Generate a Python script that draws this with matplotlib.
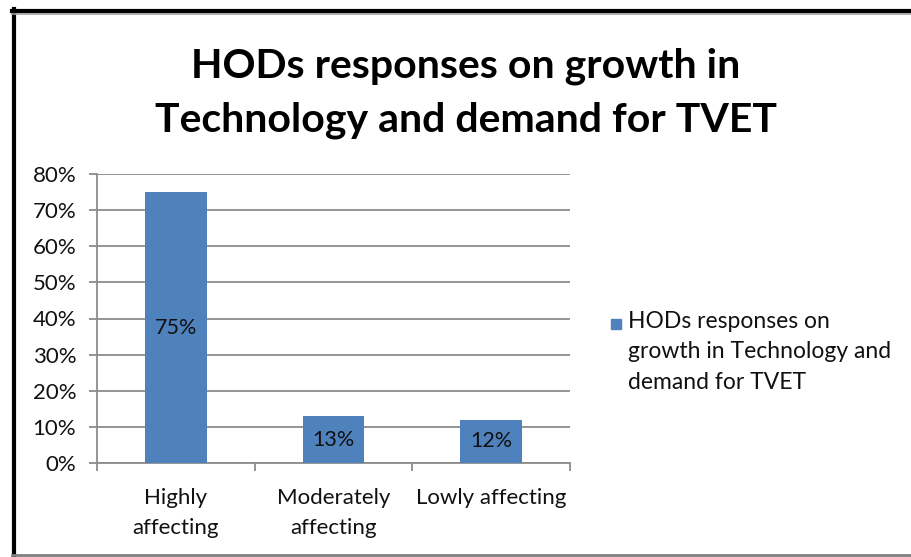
import matplotlib.pyplot as plt
from matplotlib.patches import Rectangle
from matplotlib.lines import Line2D

# response categories and share of HODs per category
categories = ['Highly\naffecting', 'Moderately\naffecting', 'Lowly affecting']
shares = [75, 13, 12]
yticks = [0, 10, 20, 30, 40, 50, 60, 70, 80]
series_name = 'HODs responses on\ngrowth in Technology and\ndemand for TVET'
title = 'HODs responses on growth in\nTechnology and demand for TVET'

bar_color = '#4F81BD'
grid_color = '#8C8C8C'

plt.rcParams['font.family'] = ['Lato', 'DejaVu Sans']

W, H = 912, 557
fig = plt.figure(figsize=(W / 100, H / 100), dpi=100)
fig.patch.set_facecolor('white')

# frame around the chart
fig.add_artist(Line2D([14 / W, 14 / W], [0, 1 - 9 / H], color='black', lw=3.0))
fig.add_artist(Line2D([12 / W, 1], [1 - 11 / H, 1 - 11 / H], color='black', lw=3.0))
fig.add_artist(Line2D([12 / W, 1], [1 - 14 / H, 1 - 14 / H], color='#A0A0A0', lw=1.2))
fig.add_artist(Line2D([12 / W, 1], [2 / H, 2 / H], color='#808080', lw=2.0))

ax = fig.add_axes([97 / W, (H - 463) / H, (570 - 97) / W, (463 - 174) / H])

x = range(len(categories))
bars = ax.bar(x, shares, width=0.39, color=bar_color, zorder=3)
for b, v in zip(bars, shares):
    ax.text(b.get_x() + b.get_width() / 2, v / 2, f'{v}%', ha='center', va='center',
            fontsize=15.5, color='#111111', zorder=4)

ax.set_ylim(0, 80)
ax.set_xlim(-0.5, len(categories) - 0.5)
ax.set_yticks(yticks)
ax.set_yticklabels([f'{t}%' for t in yticks])
ax.yaxis.grid(True, color=grid_color, lw=1.3, zorder=0)

ax.set_xticks(list(x))
ax.set_xticklabels(categories, linespacing=1.6)
ax.set_xticks([-0.5, 0.5, 1.5, 2.5], minor=True)
ax.tick_params(axis='x', which='major', length=0, pad=18, labelsize=16, colors='#111111')
ax.tick_params(axis='x', which='minor', length=6, width=1.3, color=grid_color, direction='out')
ax.tick_params(axis='y', length=6, width=1.3, color=grid_color, pad=9, labelsize=16,
               labelcolor='#111111')

for s in ['top', 'right']:
    ax.spines[s].set_visible(False)
for s in ['left', 'bottom']:
    ax.spines[s].set_color(grid_color)
    ax.spines[s].set_linewidth(1.3)

fig.text(466 / W, 1 - 93 / H, title, ha='center', va='center', fontsize=29.5,
         fontweight='bold', linespacing=1.55)

# legend entry
fig.add_artist(Rectangle((611 / W, 1 - 329 / H), 10 / W, 10 / H, color=bar_color,
                         transform=fig.transFigure))
fig.text(628 / W, 1 - 311 / H, series_name, ha='left', va='top', fontsize=16.5,
         color='#111111', linespacing=1.55)

fig.savefig('out.png', dpi=100)
